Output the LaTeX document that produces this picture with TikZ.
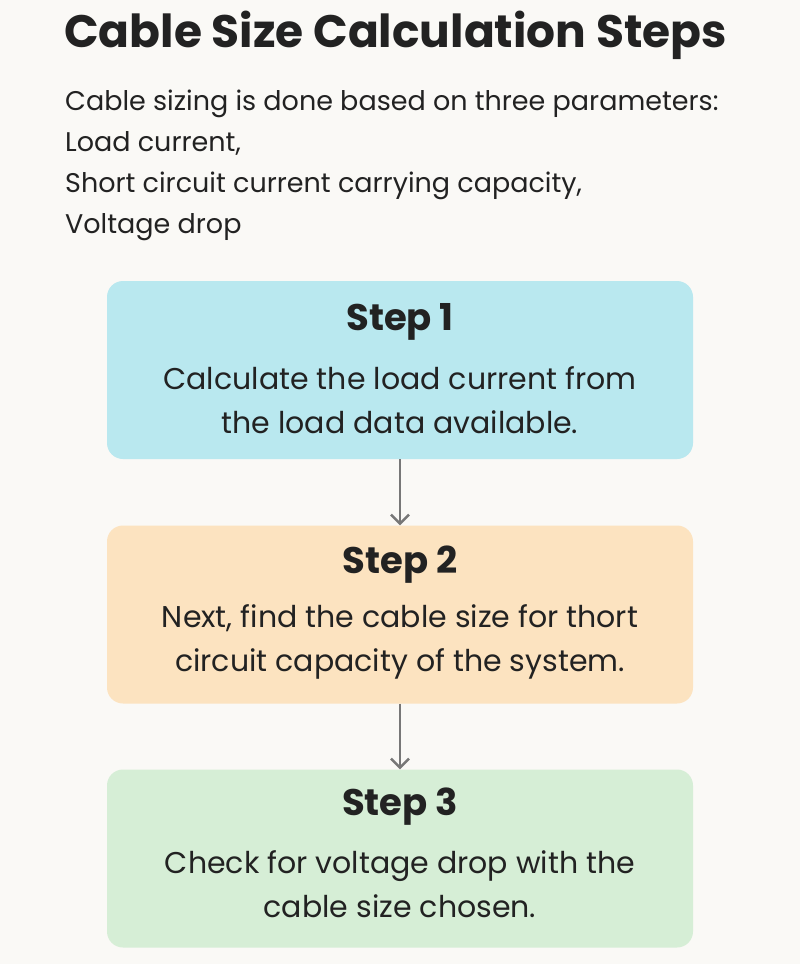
\documentclass[tikz,border=0pt]{standalone}
\usepackage{fontspec}
\setmainfont{Poppins}
\usetikzlibrary{arrows.meta}
\definecolor{bg}{HTML}{FAF9F6}
\definecolor{c1}{HTML}{B9E8EF}
\definecolor{c2}{HTML}{FCE3C0}
\definecolor{c3}{HTML}{D6EED6}
\definecolor{ink}{HTML}{222222}
\definecolor{arr}{HTML}{777777}
\begin{document}
\begin{tikzpicture}[x=1pt,y=-1pt,
  box/.style={rounded corners=16pt,minimum width=586pt,minimum height=178pt,draw=none},
  head/.style={font=\fontsize{37}{40}\selectfont\bfseries,text=ink},
  body/.style={font=\fontsize{30}{44}\selectfont,text=ink,align=center},
  intro/.style={font=\fontsize{27}{41}\selectfont,text=ink,anchor=base west,inner sep=0},
  conn/.style={draw=arr,line width=2.5pt,-{Straight Barb[length=9pt,width=18pt,line width=2.5pt]}}]
\fill[bg] (0,0) rectangle (800,964);
\useasboundingbox (0,0) rectangle (800,964);
\node[anchor=base west,inner sep=0,font=\fontsize{45.5}{50}\selectfont\bfseries,text=ink] (title) at (64,47) {Cable Size Calculation Steps};
\node[intro] (i1) at (65,110) {Cable sizing is done based on three parameters:};
\node[intro] (i2) at (65,151) {Load current,};
\node[intro] (i3) at (65,192) {Short circuit current carrying capacity,};
\node[intro] (i4) at (65,233) {Voltage drop};
\node[box,fill=c1] (b1) at (400,370) {};
\node[box,fill=c2] (b2) at (400,614.5) {};
\node[box,fill=c3] (b3) at (400,858.5) {};
\node[head] (h1) at (400,322) {Step 1};
\node[body] (t1) at (400,400) {Calculate the load current from\\the load data available.};
\node[head] (h2) at (400,565) {Step 2};
\node[body] (t2) at (400,642) {Next, find the cable size for thort\\circuit capacity of the system.};
\node[head] (h3) at (400,807) {Step 3};
\node[body] (t3) at (400,884) {Check for voltage drop with the\\cable size chosen.};
\draw[conn] (b1.south) -- (b2.north);
\draw[conn] (b2.south) -- (b3.north);
\end{tikzpicture}
\end{document}
